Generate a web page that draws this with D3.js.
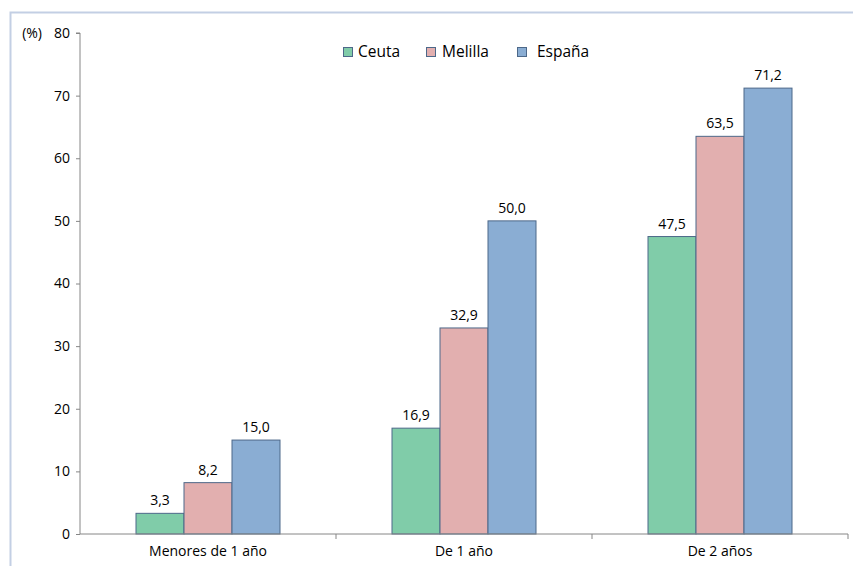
<!DOCTYPE html>
<html><head><meta charset="utf-8">
<script src="https://cdn.jsdelivr.net/npm/d3@7"></script>
<style>body{margin:0;background:#fff}svg{display:block}text{font-family:"Open Sans","Liberation Sans",sans-serif;fill:#000}</style>
</head><body><svg id="c" width="853" height="566"></svg>
<script>
const categories = ["Menores de 1 año", "De 1 año", "De 2 años"];
const seriesNames = ["Ceuta", "Melilla", "España"];
const ceuta = [3.3, 16.9, 47.5];
const melilla = [8.2, 32.9, 63.5];
const espana = [15.0, 50.0, 71.2];
const yTicks = [0, 10, 20, 30, 40, 50, 60, 70, 80];
const colors = ["#80cca9", "#e2afaf", "#8aadd3"];
const seriesVals = [ceuta, melilla, espana];

const svg = d3.select("#c");
// outer border
svg.append("rect").attr("x", 10.5).attr("y", 12.5).attr("width", 860).attr("height", 600)
  .attr("fill", "none").attr("stroke", "#c3cfe4").attr("stroke-width", 2);

const x0 = 80, x1 = 848, yTop = 33, yBot = 534;
const x = d3.scaleBand().domain(categories).range([x0, x1]).padding(0);
const barW = 48;
const y = d3.scaleLinear().domain([0, 80]).range([yBot, yTop]);
const fs = "14px";

// y axis
const yAxis = svg.append("g").attr("transform", `translate(${x0},0)`)
  .call(d3.axisLeft(y).tickValues(yTicks).tickSize(4).tickPadding(6).tickFormat(d3.format("d")));
yAxis.select(".domain").attr("stroke", "#868686").attr("d", `M-4,${yTop}H0V${yBot}`);
yAxis.selectAll(".tick line").attr("stroke", "#868686");
yAxis.selectAll("text").style("font-size", fs).attr("fill", "#000");

svg.append("text").attr("x", 42).attr("y", y(80)).attr("dy", "0.35em").attr("text-anchor", "end")
  .style("font-size", fs).text("(%)");

// bars
const groups = svg.append("g").selectAll("g").data(categories).join("g")
  .attr("transform", d => `translate(${x(d) + x.bandwidth()/2 - 1.5*barW},0)`);
seriesNames.forEach((s, si) => {
  groups.append("rect")
    .attr("x", si * barW).attr("width", barW)
    .attr("y", (d, i) => y(seriesVals[si][i]))
    .attr("height", (d, i) => yBot - y(seriesVals[si][i]))
    .attr("fill", colors[si]).attr("stroke", "#4d6889").attr("stroke-width", 1);
  groups.append("text")
    .attr("x", si * barW + barW/2)
    .attr("y", (d, i) => y(seriesVals[si][i]) - 8)
    .attr("text-anchor", "middle").style("font-size", fs)
    .text((d, i) => d3.format(".1f")(seriesVals[si][i]).replace(".", ","));
});

// x axis
const xAxis = svg.append("g").attr("transform", `translate(0,${yBot})`)
  .call(d3.axisBottom(x).tickSize(0).tickPadding(12));
xAxis.select(".domain").attr("stroke", "#868686").attr("d", `M${x0},0H${x1}V5`);
xAxis.selectAll("text").style("font-size", fs).attr("fill", "#000");
[1, 2].forEach(i => {
  const xx = x(categories[i]);
  xAxis.append("line").attr("x1", xx).attr("x2", xx).attr("y1", 0).attr("y2", 5).attr("stroke", "#868686");
});

// legend
const legX = [343, 426, 517];
const legTextX = [358, 442, 537];
const leg = svg.append("g");
seriesNames.forEach((s, i) => {
  leg.append("rect").attr("x", legX[i] + 0.5).attr("y", 47.5).attr("width", 9).attr("height", 9)
    .attr("fill", colors[i]).attr("stroke", "#4d6889");
  leg.append("text").attr("x", legTextX[i]).attr("y", 52).attr("dy", "0.35em")
    .style("font-size", "15.5px").text(s);
});
</script></body></html>
